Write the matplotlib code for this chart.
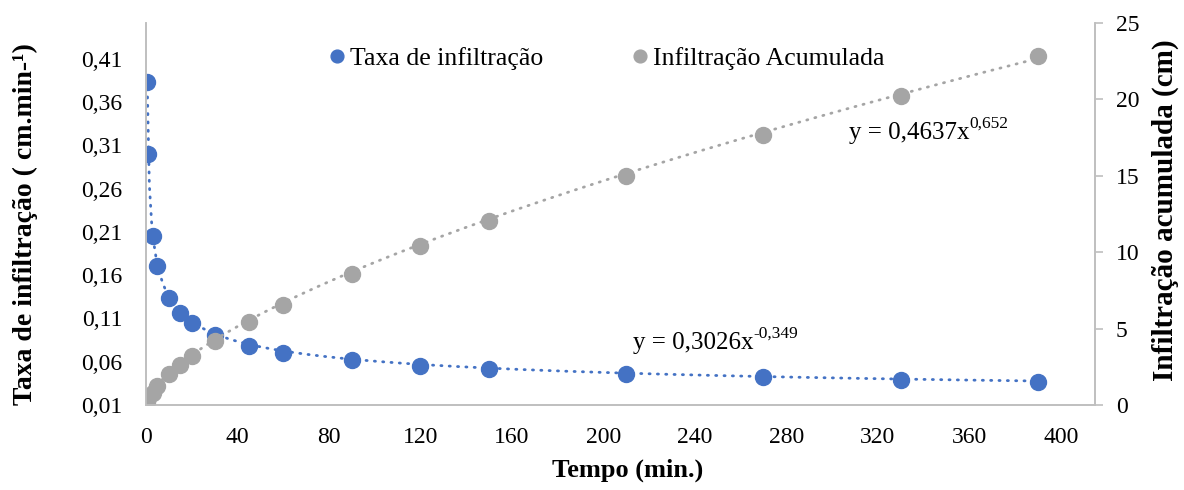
import matplotlib.pyplot as plt
import numpy as np

plt.rcParams['font.family'] = ['Liberation Serif', 'DejaVu Serif']

# tempo (min.)
tempo = [0.5, 1, 3, 5, 10, 15, 20, 30, 45, 60, 90, 120, 150, 210, 270, 330, 390]
# taxa de infiltração (cm.min-1)
taxa = [0.383, 0.300, 0.205, 0.171, 0.134, 0.116, 0.1045, 0.091, 0.0786, 0.0705,
        0.062, 0.055, 0.0516, 0.0458, 0.0424, 0.039, 0.0366]
# infiltração acumulada (cm)
acumulada = [0.19, 0.45, 0.8, 1.25, 2.0, 2.63, 3.18, 4.2, 5.45, 6.55,
             8.6, 10.4, 12.05, 15.0, 17.7, 20.2, 22.85]

# power trendlines y = a*x^b
fit_taxa = (0.3026, -0.349)
fit_acum = (0.4637, 0.652)

blue = '#4472C4'
grey = '#A5A5A5'
spine_c = '#BFBFBF'

fig = plt.figure(figsize=(11.84, 4.9), dpi=100)
ax = fig.add_axes([146/1184, 1 - 405/490, (1095-146)/1184, (405-23)/490])
ax2 = ax.twinx()

xt = np.linspace(0.5, 390, 400)
ax.plot(xt, fit_taxa[0] * xt ** fit_taxa[1], color=blue, lw=2,
        dashes=(0.4, 2.6), dash_capstyle='round')
ax.plot(tempo, taxa, 'o', color=blue, ms=11.5, label='Taxa de infiltração')

ax2.plot(xt, fit_acum[0] * xt ** fit_acum[1], color=grey, lw=2,
         dashes=(0.4, 2.6), dash_capstyle='round')
ax2.plot(tempo, acumulada, 'o', color=grey, ms=11.5, label='Infiltração Acumulada')

ax.set_xlim(0, 415)
ax.set_ylim(0.01, 0.4516)
ax2.set_ylim(0, 25)

ax.set_xticks(np.arange(0, 401, 40))
yt = [0.01, 0.06, 0.11, 0.16, 0.21, 0.26, 0.31, 0.36, 0.41]
ax.set_yticks(yt)
ax.set_yticklabels([f'{v:.2f}'.replace('.', ',') for v in yt])
ax2.set_yticks(range(0, 26, 5))

for a in (ax, ax2):
    for s in a.spines.values():
        s.set_color(spine_c)
        s.set_linewidth(1.2)
    a.spines['top'].set_visible(False)
    a.tick_params(labelsize=17, colors='black')
ax.tick_params(axis='x', length=0, pad=16)
ax.tick_params(axis='y', length=0, pad=17)
ax2.tick_params(axis='y', length=6, width=1.2, color=spine_c, pad=9)

ax.set_xlabel('Tempo (min.)', fontsize=19, fontweight='bold', va='center')
ax.xaxis.set_label_coords(0.508, -0.17)
ax.set_ylabel('Taxa de infiltração ( cm.min-¹)', fontsize=20, fontweight='bold', va='center')
ax.yaxis.set_label_coords(-0.127, 0.474)
ax2.set_ylabel('Infiltração acumulada (cm)', fontsize=21, fontweight='bold', va='center')
ax2.yaxis.set_label_coords(1.074, 0.51)

h1, l1 = ax.get_legend_handles_labels()
h2, l2 = ax2.get_legend_handles_labels()
leg = ax2.legend(h1 + h2, l1 + l2, loc='center', bbox_to_anchor=(0.483, 0.908),
                 ncol=2, frameon=False, fontsize=18.5, markerscale=0.8,
                 handletextpad=0.0, columnspacing=3.3, handlelength=1.0)


def equation(axis, x, y, base, sup):
    t = axis.text(x, y, base, fontsize=18, ha='left', va='baseline',
                  transform=axis.transAxes)
    axis.annotate(sup, xy=(1, 0), xycoords=t, xytext=(0, 12),
                  textcoords='offset points', fontsize=12.5, ha='left', va='baseline')


equation(ax2, (633-146)/949, (405-349)/382, 'y = 0,3026x', '-0,349')
equation(ax2, (849-146)/949, (405-139)/382, 'y = 0,4637x', '0,652')

fig.savefig('out.png', dpi=100)
